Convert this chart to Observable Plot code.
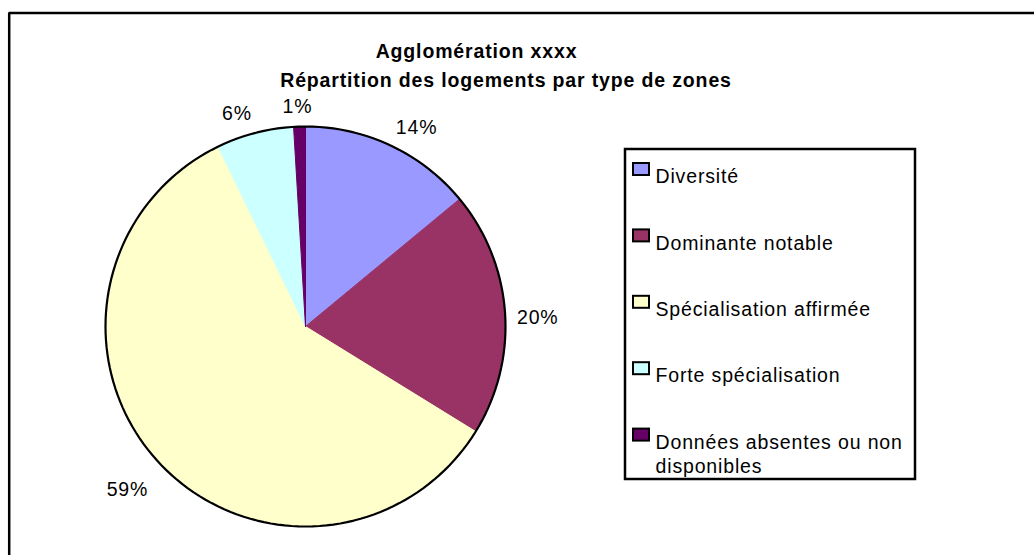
<!DOCTYPE html>
<html>
<head>
<meta charset="utf-8">
<script src="https://cdn.jsdelivr.net/npm/d3@7"></script>
<script src="https://cdn.jsdelivr.net/npm/@observablehq/plot@0.6"></script>
<style>
  html, body { margin: 0; padding: 0; background: #fff; overflow: hidden; }
  #chart svg text { letter-spacing: 0.85px; }
</style>
</head>
<body>
<div id="chart"></div>
<script>
// ---- data ----
const categories = ["Diversité", "Dominante notable", "Spécialisation affirmée", "Forte spécialisation", "Données absentes ou non disponibles"];
const shares = [14.0, 19.8, 59.0, 6.25, 0.95];
const sliceColors = ["#9999FF", "#993366", "#FFFFCC", "#CCFFFF", "#660066"];
const titleLines = ["Agglomération xxxx", "Répartition des logements par type de zones"];
const legendLabels = ["Diversité", "Dominante notable", "Spécialisation affirmée", "Forte spécialisation", "Données absentes ou non\ndisponibles"];

// ---- layout ----
const W = 1034, H = 555;
const CX = 305, CY = 326, R = 200;
const FS = 19.5;

const arcs = d3.pie().sort(null).value(d => d)(shares);
const deg = Math.PI / 180;

const slicePts = [];
arcs.forEach((a, i) => {
  const cat = categories[i];
  slicePts.push({cat, px: CX, py: CY});
  const n = Math.max(2, Math.ceil((a.endAngle - a.startAngle) / deg));
  for (let k = 0; k <= n; k++) {
    const t = a.startAngle + (a.endAngle - a.startAngle) * k / n;
    slicePts.push({cat, px: CX + R * Math.sin(t), py: CY - R * Math.cos(t)});
  }
  slicePts.push({cat, px: CX, py: CY});
});

const ringPts = d3.range(0, 361, 2).map(d => ({px: CX + R * Math.sin(d * deg), py: CY - R * Math.cos(d * deg)}));

const clamp = v => Math.max(-1, Math.min(1, v));
const labelData = arcs.map((a, i) => {
  const m = (a.startAngle + a.endAngle) / 2;
  const s = Math.sin(m), c = Math.cos(m);
  const txt = Math.round(shares[i]) + "%";
  const w = FS * (0.556 * (txt.length - 1) + 0.889) + 0.85 * txt.length;
  const h = 15;
  const rr = R + 12;
  return {
    txt,
    px: CX + rr * s + clamp(s * 4) * w / 2,
    py: CY - rr * c - clamp(c * 3) * h / 2 + 8 * (1 - c)
  };
});

const legendItems = legendLabels.map((label, i) => ({
  label,
  cat: categories[i],
  sx1: 633, sx2: 649,
  sy1: 163 + i * 66.4, sy2: 175 + i * 66.4,
  tx: 655,
  ty: 182.7 + i * 66.4 + (label.split("\n").length - 1) * 24.4
}));

const titleData = titleLines.map((t, i) => ({t, px: i ? 505.5 : 476, py: i ? 86.5 : 57.3}));

const chart = Plot.plot({
  width: W,
  height: H,
  margin: 0,
  x: {type: "linear", domain: [0, W], range: [0, W], axis: null},
  y: {type: "linear", domain: [0, H], range: [0, H], axis: null},
  color: {type: "ordinal", domain: categories, range: sliceColors},
  style: {fontFamily: "'Liberation Sans', Arial, sans-serif", fontSize: FS + "px", background: "white", color: "black"},
  marks: [
    // outer chart frame (top and left edges visible)
    Plot.ruleY([12.5], {x1: 8.7, x2: W, stroke: "black", strokeWidth: 2.5}),
    Plot.ruleX([8.7], {y1: 12.5, y2: H, stroke: "black", strokeWidth: 2.5}),
    // pie slices
    Plot.line(slicePts, {x: "px", y: "py", z: "cat", fill: "cat", stroke: "cat", strokeWidth: 1, curve: "linear"}),
    // pie outline
    Plot.line(ringPts, {x: "px", y: "py", stroke: "black", strokeWidth: 2.2, curve: "linear"}),
    // percentage labels
    Plot.text(labelData, {x: "px", y: "py", text: "txt", fontSize: FS, textAnchor: "middle", lineAnchor: "middle", fill: "black"}),
    // title
    Plot.text(titleData, {x: "px", y: "py", text: "t", fontSize: FS, fontWeight: "bold", textAnchor: "middle", lineAnchor: "bottom", fill: "black"}),
    // legend box
    Plot.rect([0], {x1: () => 625, x2: () => 915, y1: () => 149, y2: () => 479, fill: "white", stroke: "black", strokeWidth: 2.5}),
    // legend swatches
    Plot.rect(legendItems, {x1: "sx1", x2: "sx2", y1: "sy1", y2: "sy2", fill: "cat", stroke: "black", strokeWidth: 2}),
    // legend labels
    Plot.text(legendItems, {x: "tx", y: "ty", text: "label", fontSize: FS, textAnchor: "start", lineAnchor: "bottom", lineHeight: 1.25, fill: "black"})
  ]
});
document.getElementById("chart").appendChild(chart);
</script>
</body>
</html>
